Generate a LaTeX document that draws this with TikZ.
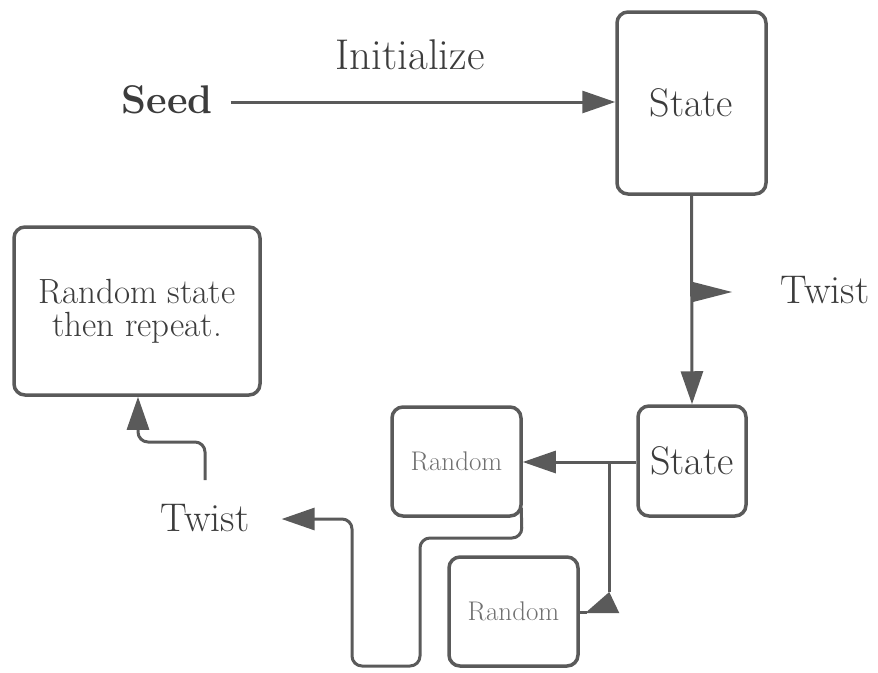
\documentclass[tikz,border=0pt]{standalone}
\usetikzlibrary{arrows.meta}
\definecolor{ln}{HTML}{5A5A5A}
\definecolor{tx}{HTML}{3C3C3C}
\definecolor{tl}{HTML}{707070}
\begin{document}
\begin{tikzpicture}[x=1pt,y=-1pt,
  box/.style={draw=ln,line width=3.5pt,rounded corners=11pt,inner sep=0pt,text=tx,align=center},
  conn/.style={draw=ln,line width=3pt},
  tip/.style={-{Triangle[length=33pt,width=22pt]}},
  lbl/.style={text=tx,inner sep=0pt,font=\fontsize{40}{44}\selectfont},
  small/.style={font=\fontsize{27}{30}\selectfont,text=tl},
  mid/.style={font=\fontsize{35}{38}\selectfont}]
\useasboundingbox (0,0) rectangle (878,672);
\node[box,minimum width=149pt,minimum height=182pt,font=\fontsize{40}{44}\selectfont] (s1) at (691.5,103) {State};
\node[box,minimum width=108pt,minimum height=110pt,font=\fontsize{40}{44}\selectfont] (s2) at (692,461) {State};
\node[box,minimum width=129pt,minimum height=109pt,small] (r1) at (456.5,461.5) {Random};
\node[box,minimum width=129pt,minimum height=109pt,small] (r2) at (513.5,611.5) {Random};
\node[box,minimum width=246pt,minimum height=168pt,mid] (rs) at (137,311) {Random state\\[-5pt]then repeat.};
\node[lbl,font=\bfseries\fontsize{40}{44}\selectfont] (seed) at (167,100) {Seed};
\node[lbl,font=\fontsize{43}{46}\selectfont] (init) at (410,55) {Initialize};
\node[lbl] (tw1) at (825,290) {Twist};
\node[lbl] (tw2) at (205,518) {Twist};
% Seed -> State
\draw[conn,tip] ([xshift=18pt,yshift=-2pt]seed.east) -- ([yshift=-2pt]seed.east -| s1.west);
% State -> State
\draw[conn,tip] (s1.south) -- (s2.north);
% twist marker
\coordinate (tm) at (693,292);
\fill[ln] ([yshift=-10pt]tm) -- ([xshift=39pt]tm) -- ([yshift=10pt]tm) -- cycle;
% State2 -> Random1
\draw[conn,tip] ([yshift=-1pt]s2.west) -- ([yshift=-1pt]s2.west -| r1.east);
% branch to Random2
\coordinate (br) at ([xshift=-27pt,yshift=-1pt]s2.west);
\coordinate (bt) at (br |- 0,592);
\draw[conn] (br) -- (bt);
\fill[ln] ([xshift=-24pt,yshift=-21pt]bt) -- (bt) -- ([xshift=10pt,yshift=-21pt]bt) -- cycle;
\draw[conn] ([yshift=-20pt]bt -| r2.east) -- ([xshift=-22pt,yshift=-20pt]bt);
% Random1 -> Twist
\draw[conn,tip,rounded corners=10pt] ([xshift=-1.5pt,yshift=10pt]r1.south east) -- (522,538) -- (420,538) -- (420,666) -- (352,666) -- (352,519) -- ([xshift=32pt]tw2.east |- 0,519);
% Twist -> Random state
\draw[conn,tip,rounded corners=10pt] (205,480) -- (205,442) -- (138,442) -- (rs.south -| 138,0);
\end{tikzpicture}
\end{document}
